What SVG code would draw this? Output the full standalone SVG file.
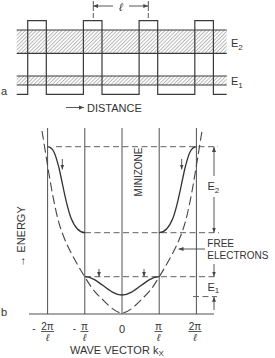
<svg xmlns="http://www.w3.org/2000/svg" width="275" height="358" viewBox="0 0 275 358">
<style>
.ln{stroke:#505050;stroke-width:1;fill:none}
.wv{stroke:#3a3a3a;stroke-width:1.2;fill:none}
.cv{stroke:#333;stroke-width:1.3;fill:none}
.ds{stroke:#606060;stroke-width:1;fill:none;stroke-dasharray:6,3.5}
.pb{stroke:#444;stroke-width:1.1;fill:none;stroke-dasharray:9,4}
.ar{stroke:#444;stroke-width:0.9;fill:none}
text{font-family:"Liberation Sans","DejaVu Sans",sans-serif;fill:#333}
.lb{font-size:11px}
.sm{font-size:10px}
.fr{font-size:10px;text-anchor:middle}
</style>
<defs>
<pattern id="hatch" patternUnits="userSpaceOnUse" width="2.6" height="2.6" patternTransform="rotate(45)">
<line x1="0.5" y1="0" x2="0.5" y2="2.6" stroke="#9a9a9a" stroke-width="0.7"/>
</pattern>
<marker id="ah" viewBox="0 0 10 10" refX="10" refY="5" markerWidth="5" markerHeight="5" orient="auto-start-reverse" markerUnits="userSpaceOnUse">
<path d="M0,1 L10,5 L0,9 z" fill="#444"/>
</marker>
</defs>
<rect width="275" height="358" fill="#fff"/>

<g id="panel-a">
<g id="bands">
<rect x="16.7" y="30" width="210" height="23.3" fill="url(#hatch)"/>
<rect x="16.7" y="76" width="210" height="9" fill="url(#hatch)"/>
<path class="wv" d="M16.7,30H226.7M16.7,53.3H226.7M16.7,76H226.7M16.7,85H226.7"/>
</g>
<path id="potential" class="wv" d="M16.7,94.3H27.7V20.7H46.3V94.3H83.4V20.7H102V94.3H139.1V20.7H157.7V94.3H194.8V20.7H213.4V94.3H226.7"/>
<g id="period">
<path class="ar" d="M93.3,1V11M93.3,13V18M148.3,1V11M148.3,13V18"/>
<line class="ar" x1="113" y1="6" x2="93.3" y2="6" marker-end="url(#ah)"/>
<line class="ar" x1="129" y1="6" x2="148.3" y2="6" marker-end="url(#ah)"/>
<text x="121" y="10.5" class="lb" text-anchor="middle" font-style="italic">ℓ</text>
</g>
<text id="E2a" x="231" y="47" class="lb">E<tspan font-size="8" dy="2.5">2</tspan></text>
<text id="E1a" x="231" y="85" class="lb">E<tspan font-size="8" dy="2.5">1</tspan></text>
<text id="label-a" x="1" y="95" class="lb">a</text>
<g id="distance">
<line class="ar" x1="66" y1="107.5" x2="84" y2="107.5" marker-end="url(#ah)"/>
<text x="87" y="111.5" class="lb">DISTANCE</text>
</g>
</g>

<g id="panel-b">
<g id="axes">
<path class="ln" d="M47.6,128V314M84.8,128V314M122,128V314M159.2,128V314M196.4,128V314M29,314H214"/>
</g>
<g id="dashed-levels">
<path class="ds" d="M56,146.7H218M85,232.7H219M85,276.7H218M193,296.6H217"/>
</g>
<path id="free-electrons" class="pb" d="M42,131 C44,142.8 50.2,183.5 54,201.7 C57.9,220.4 59.75,227.3 65,240 C70.25,252.7 79.7,268.5 85.5,278 C91.3,287.5 93.9,291.2 100,297 C106.1,302.8 114.7,313 122,313 C129.3,313 137.9,302.8 144,297 C150.1,291.2 152.7,287.5 158.5,278 C164.3,268.5 173.75,252.7 179,240 C184.25,227.3 186.1,220.4 190,201.7 C193.8,183.5 200,142.8 202,131"/>
<g id="bands-b">
<path class="cv" d="M47.6,146.7 C54,147 56,157 59,168 C63,185 66,205 71,218 C75,228 79,232.7 85,232.7"/>
<path class="cv" d="M159,232.7 C165,232.7 169,228 173,218 C178,205 181,185 185,168 C188,157 190,147 196.4,146.7"/>
<path class="cv" d="M84.8,276.7 C98.35,276.7 108.45,295 122,295 C135.55,295 145.65,276.7 159.2,276.7"/>
</g>
<g id="small-arrows">
<line class="ar" x1="62.3" y1="159" x2="62.3" y2="169.5" marker-end="url(#ah)"/>
<line class="ar" x1="181.7" y1="159" x2="181.7" y2="169.5" marker-end="url(#ah)"/>
<line class="ar" x1="99" y1="269" x2="99" y2="276.7" marker-end="url(#ah)"/>
<line class="ar" x1="144" y1="269" x2="144" y2="276.7" marker-end="url(#ah)"/>
</g>
<g id="E2-dim">
<line class="ar" x1="214" y1="176" x2="214" y2="146.9" marker-end="url(#ah)"/>
<line class="ar" x1="214" y1="197" x2="214" y2="232.5" marker-end="url(#ah)"/>
<text x="207.5" y="190" class="lb">E<tspan font-size="8" dy="2.5">2</tspan></text>
</g>
<g id="E1-dim">
<line class="ar" x1="214" y1="264" x2="214" y2="276.5" marker-end="url(#ah)"/>
<line class="ar" x1="214" y1="310" x2="214" y2="296.8" marker-end="url(#ah)"/>
<text x="207.5" y="290.5" class="lb">E<tspan font-size="8" dy="2.5">1</tspan></text>
</g>
<g id="free-label">
<line class="ar" x1="205" y1="249" x2="178.5" y2="249" marker-end="url(#ah)"/>
<text x="207.3" y="247" class="sm">FREE</text>
<text x="207.3" y="258.5" class="sm">ELECTRONS</text>
</g>
<text id="minizone" class="sm" transform="translate(141.5,172) rotate(-90)" text-anchor="middle">MINIZONE</text>
<text id="energy" class="lb" transform="translate(24.5,236.5) rotate(-90)" text-anchor="middle">→ ENERGY</text>
<text id="label-b" x="1" y="316" class="lb">b</text>
<g id="ticks-labels">
<text x="34" y="332" class="fr">-</text>
<text x="47.5" y="329.5" class="fr">2π</text>
<line class="ar" x1="41" y1="331.5" x2="54" y2="331.5"/>
<text x="47.5" y="340.5" class="fr" font-style="italic">ℓ</text>
<text x="74.5" y="332" class="fr">-</text>
<text x="84.5" y="329.5" class="fr">π</text>
<line class="ar" x1="80.5" y1="331.5" x2="88.5" y2="331.5"/>
<text x="84.5" y="340.5" class="fr" font-style="italic">ℓ</text>
<text x="122" y="333" class="lb" text-anchor="middle">0</text>
<text x="158.5" y="329.5" class="fr">π</text>
<line class="ar" x1="154.5" y1="331.5" x2="162.5" y2="331.5"/>
<text x="158.5" y="340.5" class="fr" font-style="italic">ℓ</text>
<text x="195" y="329.5" class="fr">2π</text>
<line class="ar" x1="188.5" y1="331.5" x2="201.5" y2="331.5"/>
<text x="195" y="340.5" class="fr" font-style="italic">ℓ</text>
</g>
<text id="wave-vector" x="70" y="354" class="lb">WAVE VECTOR k<tspan font-size="8" dy="2">X</tspan></text>
</g>
</svg>
